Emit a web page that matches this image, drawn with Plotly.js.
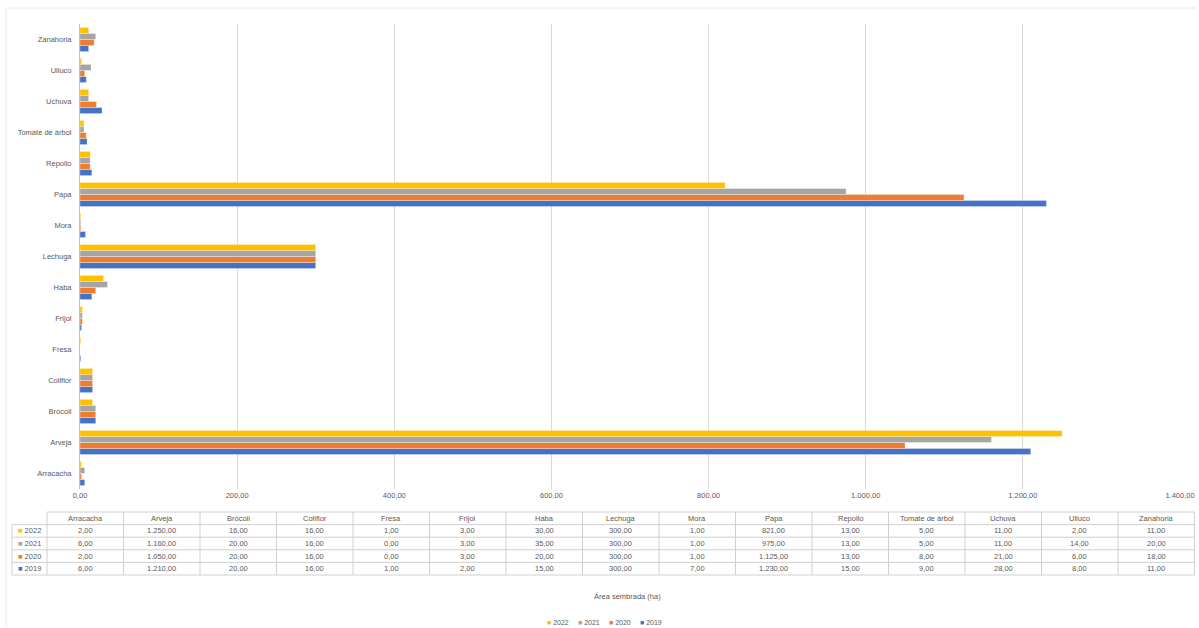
<!DOCTYPE html>
<html>
<head>
<meta charset="utf-8">
<script src="https://cdn.plot.ly/plotly-3.0.1.min.js"></script>
<style>html,body{margin:0;padding:0;background:#fff;}#chart{width:1199px;height:628px;}</style>
</head>
<body>
<div id="chart"></div>
<script>
const categories = ["Arracacha","Arveja","Brócoli","Coliflor","Fresa","Frijol","Haba","Lechuga","Mora","Papa","Repollo","Tomate de árbol","Uchuva","Ulluco","Zanahoria"];
const years = ["2019","2020","2021","2022"];
const v2019 = [6,1210,20,16,1,2,15,300,7,1230,15,9,28,8,11];
const v2020 = [2,1050,20,16,0,3,20,300,1,1125,13,8,21,6,18];
const v2021 = [6,1160,20,16,0,3,35,300,1,975,13,5,11,14,20];
const v2022 = [2,1250,16,16,1,3,30,300,1,821,13,5,11,2,11];
const xTicks = [0,200,400,600,800,1000,1200,1400];
const colors = {"2019":"#4472C4","2020":"#ED7D31","2021":"#A5A5A5","2022":"#FFC000"};
const series = {"2019":v2019,"2020":v2020,"2021":v2021,"2022":v2022};

const W = 1199, H = 628;
const fontFam = "Liberation Sans, Arial, sans-serif";
const txtCol = "#595959";
const gridCol = "#D0D0D0";

function fmt(v){
  const s = v.toFixed(2).split(".");
  const ip = s[0].replace(/\B(?=(\d{3})+(?!\d))/g, ".");
  return ip + "," + s[1];
}
const px = x => x / W;
const py = y => 1 - y / H;

const traces = years.map(y => ({
  type: "bar",
  orientation: "h",
  name: y,
  x: series[y],
  y: categories,
  marker: {color: colors[y], line: {color: "#ffffff", width: 0.3}},
  showlegend: false
}));

// ---- data table (drawn with shapes + annotations built from the arrays)
const tblYears = ["2022","2021","2020","2019"];
const tblLeft = 12, hdrColW = 35, colW = 76.5;
const tblTop = 512, rowH = 12.6;
const firstCol = tblLeft + hdrColW;
const tblRight = firstCol + colW * categories.length;
const nRows = tblYears.length;
const tblBottom = tblTop + rowH * (nRows + 1);

const shapes = [];
const annotations = [];
const lineStyle = {color: gridCol, width: 1};
// horizontal lines
shapes.push({type:"line", xref:"paper", yref:"paper", x0:px(firstCol), x1:px(tblRight), y0:py(tblTop), y1:py(tblTop), line: lineStyle});
for (let r = 1; r <= nRows + 1; r++) {
  const yy = tblTop + rowH * r;
  shapes.push({type:"line", xref:"paper", yref:"paper", x0:px(tblLeft), x1:px(tblRight), y0:py(yy), y1:py(yy), line: lineStyle});
}
// vertical lines
shapes.push({type:"line", xref:"paper", yref:"paper", x0:px(tblLeft), x1:px(tblLeft), y0:py(tblTop + rowH), y1:py(tblBottom), line: lineStyle});
for (let c = 0; c <= categories.length; c++) {
  const xx = firstCol + colW * c;
  shapes.push({type:"line", xref:"paper", yref:"paper", x0:px(xx), x1:px(xx), y0:py(tblTop), y1:py(tblBottom), line: lineStyle});
}
const cellFont = {family: fontFam, size: 7.5, color: txtCol};
// header
categories.forEach((c, i) => {
  annotations.push({text: c, xref:"paper", yref:"paper", x: px(firstCol + colW*(i+0.5)), y: py(tblTop + rowH/2),
    xanchor:"center", yanchor:"middle", showarrow:false, font: cellFont});
});
// rows
tblYears.forEach((y, k) => {
  const yc = tblTop + rowH*(k+1) + rowH/2;
  annotations.push({text: '<span style="color:' + colors[y] + '">■</span> ' + y, xref:"paper", yref:"paper",
    x: px(tblLeft + 4), y: py(yc), xanchor:"left", yanchor:"middle", showarrow:false, font: cellFont});
  categories.forEach((c, i) => {
    annotations.push({text: fmt(series[y][i]), xref:"paper", yref:"paper", x: px(firstCol + colW*(i+0.5)), y: py(yc),
      xanchor:"center", yanchor:"middle", showarrow:false, font: cellFont});
  });
});

// axis title
annotations.push({
  text: "Área sembrada (ha)",
  xref: "paper", yref: "paper",
  x: px(627), y: py(596),
  xanchor: "center", yanchor: "middle",
  showarrow: false,
  font: {family: fontFam, size: 7.5, color: txtCol}
});

// chart legend (bottom)
const legX0 = 545, legStep = 31;
tblYears.forEach((y, k) => {
  annotations.push({
    text: '<span style="color:' + colors[y] + '">■</span> ' + y,
    xref: "paper", yref: "paper",
    x: px(legX0 + k*legStep), y: py(622),
    xanchor: "left", yanchor: "middle",
    showarrow: false,
    font: {family: fontFam, size: 7, color: txtCol}
  });
});

// faint chart-area border
shapes.push({type: "line", xref: "paper", yref: "paper", x0: px(6), x1: px(1196), y0: py(8), y1: py(8), line: {color: "#E8E8E8", width: 1}});
shapes.push({type: "line", xref: "paper", yref: "paper", x0: px(6), x1: px(6), y0: py(8), y1: py(626), line: {color: "#E8E8E8", width: 1}});

const layout = {
  width: W, height: H,
  margin: {l: 0, r: 0, t: 0, b: 0},
  paper_bgcolor: "#ffffff",
  plot_bgcolor: "#ffffff",
  separators: ",.",
  barmode: "group",
  bargap: 0.22,
  bargroupgap: 0,
  font: {family: fontFam, size: 8, color: txtCol},
  showlegend: false,
  xaxis: {
    domain: [px(80), px(1180)],
    range: [0, 1400],
    tickvals: xTicks,
    tickformat: ",.2f",
    showgrid: true,
    gridcolor: "#D9D9D9",
    gridwidth: 1,
    zeroline: false,
    showline: false,
    ticks: "",
    tickfont: {family: fontFam, size: 7.5, color: txtCol},
    fixedrange: true
  },
  yaxis: {
    domain: [py(489), py(24)],
    type: "category",
    showgrid: false,
    showline: true,
    linecolor: "#BFBFBF",
    linewidth: 1,
    zeroline: false,
    ticks: "",
    ticklabelstandoff: 6,
    tickfont: {family: fontFam, size: 7.5, color: txtCol},
    fixedrange: true
  },
  annotations: annotations,
  shapes: shapes
};

Plotly.newPlot("chart", traces, layout, {displayModeBar: false, staticPlot: true});
</script>
</body>
</html>
